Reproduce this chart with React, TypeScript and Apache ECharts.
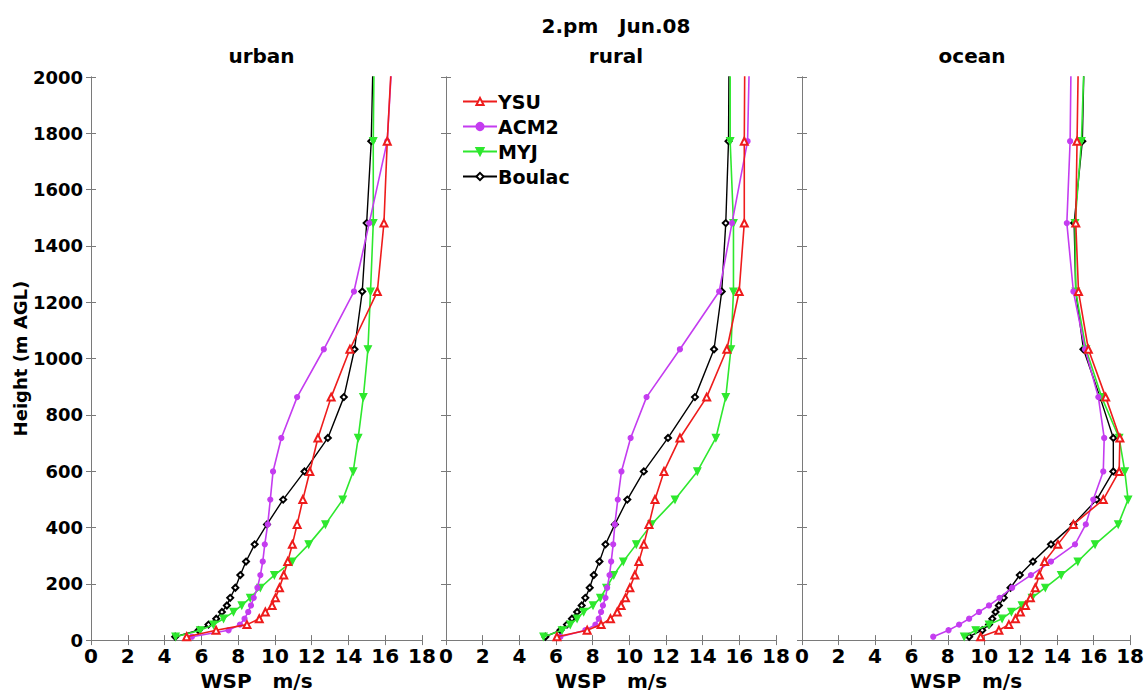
import React, { useEffect, useRef } from "react";
import * as echarts from "echarts";

// Model levels (m AGL) shared by every profile; the last level lies above the plot top
const heights = [12, 35, 55, 76, 100, 123, 150, 186, 231, 279, 340, 411, 499, 599, 718, 863, 1033, 1238, 1481, 1772, 2100];

// Wind speed (m/s) at each level
const urbanYSU = [5.2, 6.8, 8.48, 9.15, 9.48, 9.85, 10.03, 10.25, 10.48, 10.7, 10.95, 11.21, 11.52, 11.9, 12.34, 13.06, 14.08, 15.57, 15.93, 16.11, 16.38];
const urbanACM2 = [5.49, 7.48, 8.1, 8.35, 8.55, 8.7, 8.85, 9.05, 9.21, 9.34, 9.45, 9.61, 9.75, 9.9, 10.35, 11.21, 12.66, 14.3, 15.13, 16.11, 16.4];
const urbanMYJ = [4.6, 5.94, 6.66, 7.21, 7.75, 8.2, 8.66, 9.21, 9.97, 10.94, 11.84, 12.75, 13.69, 14.26, 14.53, 14.81, 15.06, 15.2, 15.35, 15.35, 15.4];
const urbanBoulac = [4.58, 5.85, 6.39, 6.81, 7.12, 7.39, 7.57, 7.85, 8.12, 8.43, 8.9, 9.57, 10.45, 11.61, 12.88, 13.75, 14.33, 14.75, 14.99, 15.24, 15.35];

const ruralYSU = [6.05, 7.7, 8.46, 8.97, 9.34, 9.55, 9.79, 10.03, 10.3, 10.52, 10.79, 11.07, 11.4, 11.89, 12.76, 14.22, 15.32, 15.99, 16.27, 16.27, 16.3];
const ruralACM2 = [6.24, 7.6, 8.15, 8.33, 8.46, 8.56, 8.7, 8.79, 8.92, 9.01, 9.12, 9.21, 9.37, 9.57, 10.07, 10.94, 12.76, 14.9, 15.6, 16.45, 16.56];
const ruralMYJ = [5.32, 6.33, 6.78, 7.15, 7.51, 8.02, 8.42, 8.75, 9.15, 9.67, 10.38, 11.21, 12.49, 13.71, 14.72, 15.26, 15.54, 15.68, 15.68, 15.5, 15.5];
const ruralBoulac = [5.42, 6.24, 6.6, 6.87, 7.15, 7.4, 7.6, 7.84, 8.06, 8.37, 8.7, 9.21, 9.89, 10.79, 12.11, 13.58, 14.62, 15.04, 15.26, 15.41, 15.44];

const oceanYSU = [9.8, 10.8, 11.35, 11.71, 11.98, 12.26, 12.53, 12.8, 13.02, 13.31, 14.04, 14.89, 16.53, 17.4, 17.44, 16.66, 15.71, 15.17, 15.02, 15.09, 15.17];
const oceanACM2 = [7.2, 8.04, 8.62, 9.17, 9.71, 10.26, 10.84, 11.53, 12.56, 13.66, 14.98, 15.57, 15.98, 16.53, 16.58, 16.26, 15.53, 14.89, 14.53, 14.71, 14.77];
const oceanMYJ = [8.9, 9.53, 10.26, 10.98, 11.49, 12.07, 12.62, 13.35, 14.22, 15.13, 16.08, 17.35, 17.89, 17.71, 17.4, 16.44, 15.58, 15.02, 14.98, 15.33, 15.5];
const oceanBoulac = [9.17, 9.89, 10.26, 10.44, 10.62, 10.8, 11.07, 11.44, 11.95, 12.67, 13.66, 14.89, 16.17, 17.08, 17.08, 16.35, 15.44, 15.02, 14.93, 15.38, 15.49];

const panelTitles = ["urban", "rural", "ocean"];
const schemes = ["YSU", "ACM2", "MYJ", "Boulac"];
const panelData = [
  [urbanYSU, urbanACM2, urbanMYJ, urbanBoulac],
  [ruralYSU, ruralACM2, ruralMYJ, ruralBoulac],
  [oceanYSU, oceanACM2, oceanMYJ, oceanBoulac],
];

const FONT = "DejaVu Sans";
const colors = ["#ee1c1c", "#c43cf0", "#2ee82e", "#000000"];
const symbols = ["emptyTriangle", "circle", "triangle", "emptyDiamond"];
const symbolSizes = [7, 5, 7, 6];
const symbolRotates = [0, 0, 180, 0];

// Plot-area frames for the three panels (px)
const grids = [
  { left: 91, top: 77, width: 331, height: 568 },
  { left: 446, top: 77, width: 330, height: 568 },
  { left: 802, top: 77, width: 330, height: 568 },
];

export default function App() {
  const ref = useRef<HTMLDivElement>(null);

  useEffect(() => {
    if (!ref.current) return;
    const chart = echarts.init(ref.current, undefined, { renderer: "svg" });

    const axisLine = { show: true, lineStyle: { color: "#7a7a7a", width: 1 } };
    const tickIn = { show: true, inside: true, length: 5, lineStyle: { color: "#7a7a7a" } };
    const labelStyle = { fontFamily: FONT, fontWeight: "bold" as const, fontSize: 20, color: "#000" };

    const xAxis: any[] = [];
    const yAxis: any[] = [];
    grids.forEach((_, i) => {
      xAxis.push({
        type: "value",
        gridIndex: i,
        position: "bottom",
        min: 0,
        max: 18,
        interval: 2,
        axisLine,
        axisTick: tickIn,
        splitLine: { show: false },
        axisLabel: { ...labelStyle, margin: 6 },
        name: "WSP   m/s",
        nameLocation: "middle",
        nameGap: 29,
        nameTextStyle: labelStyle,
      });
      xAxis.push({
        type: "value",
        gridIndex: i,
        position: "top",
        min: 0,
        max: 18,
        interval: 2,
        axisLine,
        axisTick: tickIn,
        splitLine: { show: false },
        axisLabel: { show: false },
      });
      yAxis.push({
        type: "value",
        gridIndex: i,
        position: "left",
        min: 0,
        max: 2000,
        interval: 200,
        axisLine,
        axisTick: tickIn,
        splitLine: { show: false },
        axisLabel: {
          ...labelStyle,
          show: i === 0,
          margin: 8,
          fontSize: 18,
          formatter: (v: number) => String(v),
        },
        name: i === 0 ? "Height (m AGL)" : "",
        nameLocation: "middle",
        nameRotate: 90,
        nameGap: 56,
        nameTextStyle: { ...labelStyle, fontSize: 18 },
      });
      yAxis.push({
        type: "value",
        gridIndex: i,
        position: "right",
        min: 0,
        max: 2000,
        interval: 200,
        axisLine,
        axisTick: tickIn,
        splitLine: { show: false },
        axisLabel: { show: false },
      });
    });

    const series: any[] = [];
    panelData.forEach((profiles, p) => {
      profiles.forEach((values, s) => {
        series.push({
          type: "line",
          name: schemes[s],
          xAxisIndex: p * 2,
          yAxisIndex: p * 2,
          data: values.map((v, k) => [v, heights[k]]),
          color: colors[s],
          lineStyle: { width: s === 3 ? 1.4 : 1.6, color: colors[s] },
          itemStyle: { color: colors[s], borderColor: colors[s], borderWidth: 1.2 },
          symbol: symbols[s],
          symbolSize: symbolSizes[s],
          symbolRotate: symbolRotates[s],
          showAllSymbol: true,
          clip: true,
          z: 10 - s,
        });
      });
    });

    chart.setOption({
      animation: false,
      backgroundColor: "#ffffff",
      title: [
        {
          text: "2.pm   Jun.08",
          left: 611,
          top: 11,
          textAlign: "center",
          textStyle: { ...labelStyle, fontSize: 20 },
        },
        ...panelTitles.map((t, i) => ({
          text: t,
          left: grids[i].left + grids[i].width / 2,
          top: 41,
          textAlign: "center",
          textStyle: { ...labelStyle, fontSize: 20 },
        })),
      ],
      grid: grids,
      xAxis,
      yAxis,
      legend: {
        data: schemes,
        orient: "vertical",
        left: 457,
        top: 87,
        itemWidth: 34,
        itemHeight: 9,
        itemGap: 6,
        symbolRotate: "inherit",
        textStyle: { ...labelStyle, fontSize: 19, padding: [0, 0, 0, -4] },
      },
      series,
    });

    return () => chart.dispose();
  }, []);

  return (
    <div
      ref={ref}
      style={{ position: "fixed", left: 0, top: 0, width: 1147, height: 696, background: "#fff" }}
    />
  );
}
